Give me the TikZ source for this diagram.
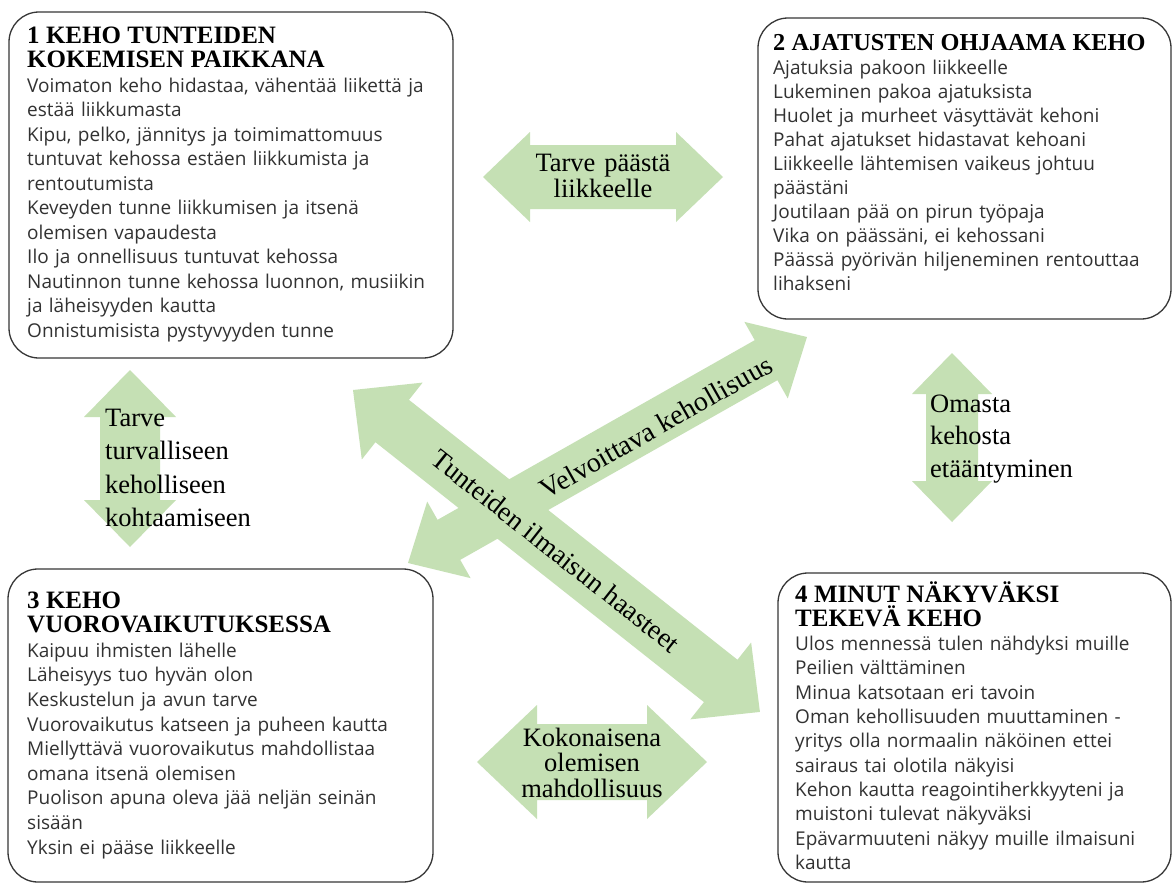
\documentclass[tikz,border=0pt]{standalone}
\usepackage{fontspec}
\setmainfont{Liberation Serif}
\newfontfamily\bodysans{Open Sans}
\definecolor{arrowgreen}{RGB}{197,224,180}
\definecolor{boxline}{RGB}{55,55,55}
\definecolor{bodytext}{RGB}{50,50,50}
\newdimen\arAx \newdimen\arAy \newdimen\arBx \newdimen\arBy
% double block arrow between two named coordinates:
% #1 start, #2 end, #3 body half width, #4 head half width, #5 head length
\newcommand\dblarrow[5]{%
  \pgfextractx{\arAx}{\pgfpointanchor{#1}{center}}%
  \pgfextracty{\arAy}{\pgfpointanchor{#1}{center}}%
  \pgfextractx{\arBx}{\pgfpointanchor{#2}{center}}%
  \pgfextracty{\arBy}{\pgfpointanchor{#2}{center}}%
  \pgfmathsetmacro\arrang{atan2(\arBy-\arAy,\arBx-\arAx)}%
  \pgfmathsetmacro\arrlen{veclen(\arBx-\arAx,\arBy-\arAy)}%
  \pgfmathsetmacro\arrbody{\arrlen-#5}%
  \fill[arrowgreen, shift={(#1)}, rotate=\arrang]
    (0,0) -- (#5,#4) -- (#5,#3) -- (\arrbody,#3) -- (\arrbody,#4) -- (\arrlen,0)
    -- (\arrbody,-#4) -- (\arrbody,-#3) -- (#5,-#3) -- (#5,-#4) -- cycle;%
}
\newcommand\hd[2][25]{{\color{black}\rmfamily\bfseries\fontsize{#1}{25}\selectfont #2}}
\tikzset{
  boxframe/.style={draw=boxline, line width=1.3pt, rounded corners=30pt, inner sep=0pt},
  boxtext/.style={anchor=base west, inner sep=0pt, text width=470pt, align=left, text=bodytext},
  labeltext/.style={inner sep=0pt, text width=260pt, align=center, anchor=base},
  sidelabel/.style={inner sep=0pt, text width=200pt, align=left, anchor=base west},
  diaglabel/.style={inner sep=0pt, font=\fontsize{27.5}{27.5}\selectfont},
}
\begin{document}
\begin{tikzpicture}[x=1pt,y=-1pt]
\useasboundingbox (0,0) rectangle (1173,884);
\fill[white] (0,0) rectangle (1173,884);
% arrow end points
\coordinate (topL) at (483,177);   \coordinate (topR) at (723,177);
\coordinate (botL) at (477,762);   \coordinate (botR) at (707,762);
\coordinate (lftT) at (130,370);   \coordinate (lftB) at (130,547);
\coordinate (rgtT) at (952,353);   \coordinate (rgtB) at (952,522);
\coordinate (aS) at (408,563);     \coordinate (aE) at (807,337);
\coordinate (bS) at (353,390);     \coordinate (bE) at (760,712);
% block arrows
\dblarrow{topL}{topR}{32}{45}{47}
\dblarrow{botL}{botR}{38}{57}{60}
\dblarrow{lftT}{lftB}{30}{46}{47}
\dblarrow{rgtT}{rgtB}{26}{40}{41}
\dblarrow{aS}{aE}{23}{44}{47}
\dblarrow{bS}{bE}{27}{49}{50}
% boxes
\node[boxframe, minimum width=444pt, minimum height=346pt] (box1) at (231,185) {};
\node[boxframe, minimum width=413pt, minimum height=301pt] (box2) at (964.5,168.5) {};
\node[boxframe, minimum width=425pt, minimum height=313pt] (box3) at (220.5,725.5) {};
\node[boxframe, minimum width=393pt, minimum height=309pt] (box4) at (974.5,727.5) {};
% box texts
\node[boxtext, font=\bodysans\fontsize{19}{24.5}\selectfont] (t1) at (27,43) {%
\hd{1 KEHO TUNTEIDEN\\KOKEMISEN PAIKKANA}\\
Voimaton keho hidastaa, vähentää liikettä ja\\
estää liikkumasta\\
Kipu, pelko, jännitys ja toimimattomuus\\
tuntuvat kehossa estäen liikkumista ja\\
rentoutumista\\
Keveyden tunne liikkumisen ja itsenä\\
olemisen vapaudesta\\
Ilo ja onnellisuus tuntuvat kehossa\\
Nautinnon tunne kehossa luonnon, musiikin\\
ja läheisyyden kautta\\
Onnistumisista pystyvyyden tunne};
\node[boxtext, font=\bodysans\fontsize{19}{24}\selectfont] (t2) at (773,50) {%
\hd[24.3]{2 AJATUSTEN OHJAAMA KEHO}\\
Ajatuksia pakoon liikkeelle\\
Lukeminen pakoa ajatuksista\\
Huolet ja murheet väsyttävät kehoni\\
Pahat ajatukset hidastavat kehoani\\
Liikkeelle lähtemisen vaikeus johtuu\\
päästäni\\
Joutilaan pää on pirun työpaja\\
Vika on päässäni, ei kehossani\\
Päässä pyörivän hiljeneminen rentouttaa\\
lihakseni};
\node[boxtext, font=\bodysans\fontsize{19}{24.6}\selectfont] (t3) at (27,608) {%
\hd{3 KEHO\\VUOROVAIKUTUKSESSA}\\
Kaipuu ihmisten lähelle\\
Läheisyys tuo hyvän olon\\
Keskustelun ja avun tarve\\
Vuorovaikutus katseen ja puheen kautta\\
Miellyttävä vuorovaikutus mahdollistaa\\
omana itsenä olemisen\\
Puolison apuna oleva jää neljän seinän\\
sisään\\
Yksin ei pääse liikkeelle};
\node[boxtext, font=\bodysans\fontsize{19}{24.3}\selectfont] (t4) at (795,602) {%
\hd{4 MINUT NÄKYVÄKSI\\TEKEVÄ KEHO}\\
Ulos mennessä tulen nähdyksi muille\\
Peilien välttäminen\\
Minua katsotaan eri tavoin\\
Oman kehollisuuden muuttaminen -\\
yritys olla normaalin näköinen ettei\\
sairaus tai olotila näkyisi\\
Kehon kautta reagointiherkkyyteni ja\\
muistoni tulevat näkyväksi\\
Epävarmuuteni näkyy muille ilmaisuni\\
kautta};
% arrow labels
\node[labeltext, font=\fontsize{26.5}{26}\selectfont] (lbltop) at (603,171) {Tarve päästä\\liikkeelle};
\node[labeltext, font=\fontsize{26.5}{25.5}\selectfont] (lblbot) at (592,746) {Kokonaisena\\olemisen\\mahdollisuus};
\node[sidelabel, font=\fontsize{26.5}{33.6}\selectfont] (lbllft) at (105,426) {Tarve\\turvalliseen\\keholliseen\\kohtaamiseen};
\node[sidelabel, font=\fontsize{26.5}{32.5}\selectfont] (lblrgt) at (930,412) {Omasta\\kehosta\\etääntyminen};
\node[diaglabel, rotate=29.53, font=\fontsize{28}{28}\selectfont] (lblA) at (656,427) {Velvoittava kehollisuus};
\node[diaglabel, rotate=-38.35] (lblB) at (556,551) {Tunteiden ilmaisun haasteet};
\end{tikzpicture}
\end{document}
